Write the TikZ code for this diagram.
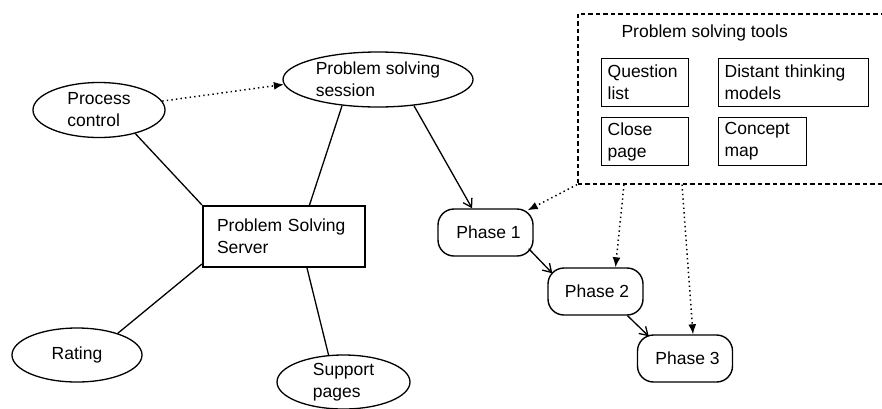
\documentclass[tikz,border=0pt]{standalone}
\usepackage{fontspec}
\setmainfont{Liberation Sans}
\usetikzlibrary{shapes.geometric,arrows.meta}

\begin{document}
\begin{tikzpicture}[x=1pt,y=-1pt,
  every node/.style={font=\fontsize{17.5}{22}\selectfont},
  oval/.style={ellipse,draw,line width=1.3pt,inner sep=-3pt,align=left},
  server/.style={rectangle,draw,line width=2pt,align=left,inner xsep=14pt,
                 text width=134pt,minimum height=61pt},
  phase/.style={rectangle,draw,line width=1.4pt,rounded corners=16pt,
                minimum width=95pt,minimum height=47pt},
  toolbox/.style={rectangle,draw,line width=1.3pt,align=left,inner xsep=6pt,
                  minimum height=48pt,anchor=north west},
  link/.style={line width=1.3pt},
  flow/.style={line width=1.3pt,-{Straight Barb[length=8pt,width=10pt]}},
  hint/.style={line width=1.5pt,dash pattern=on 1.4pt off 3.2pt,
               -{Latex[length=10pt,width=8pt]}},
  group/.style={draw,line width=1.6pt,dash pattern=on 4.5pt off 3pt}
]
\clip (0,0) rectangle (882,408);

% server and its satellites
\node[oval,minimum width=132pt,minimum height=55pt] (pc) at (99,110) {Process\\control};
\node[oval,minimum width=190pt,minimum height=55pt] (session) at (378,79.5) {Problem solving\\session};
\node[server] (server) at (284,236.5) {Problem Solving\\Server};
\node[oval,minimum width=130pt,minimum height=54pt] (rating) at (77,355) {Rating};
\node[oval,minimum width=133pt,minimum height=54pt] (support) at (343.5,382) {Support\\pages};

% phases
\node[phase] (p1) at (485.5,232.5) {\hspace*{6pt}Phase 1};
\node[phase] (p2) at (595.5,291.5) {\hspace*{3pt}Phase 2};
\node[phase] (p3) at (685,358.5) {\hspace*{5pt}Phase 3};

% tool group
\node[group,minimum width=320pt,minimum height=170pt,anchor=north west] (tools) at (577,13) {};
\node[anchor=base west] (toolstitle) at (618,37) {Problem solving tools};
\node[toolbox,text width=75pt] (qlist) at (601,58) {Question\\list};
\node[toolbox,text width=138pt] (distant) at (718,58) {Distant thinking\\models};
\node[toolbox,text width=75pt] (close) at (601,117) {Close\\page};
\node[toolbox,text width=76pt] (concept) at (718,117) {Concept\\map};
\coordinate (t2) at ([xshift=47pt]tools.south west);
\coordinate (t3) at ([xshift=105pt]tools.south west);

% connectors
\draw[link] (pc.-33) -- (server.north west);
\draw[link] (session.216) -- (server.51);
\draw[link] ([yshift=4pt]server.south west) -- (rating.28);
\draw[link] ([xshift=23pt]server.south) -- (support.119);
\draw[hint] (pc.8) -- (session.183);
\draw[flow] (session.-36) -- (p1.119);
\draw[flow] ([shift={(-5pt,8pt)}]p1.south east) -- ([shift={(5pt,-6pt)}]p2.north west);
\draw[flow] ([xshift=32pt]p2.south) -- ([shift={(12pt,-2pt)}]p3.north west);
\draw[hint] (tools.south west) -- ([shift={(-6pt,-2pt)}]p1.north east);
\draw[hint] (t2) -- ([xshift=20pt]p2.north);
\draw[hint] (t3) -- ([xshift=8pt]p3.north);
\end{tikzpicture}
\end{document}
